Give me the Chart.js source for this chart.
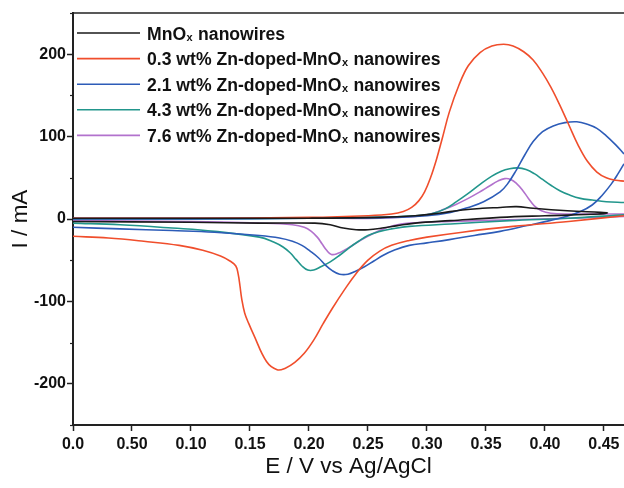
<!DOCTYPE html>
<html>
<head>
<meta charset="utf-8">
<script src="https://cdn.jsdelivr.net/npm/chart.js@4/dist/chart.umd.min.js"></script>
<style>
  html, body { margin: 0; padding: 0; background: #fff; }
  #cv { display: block; }
</style>
</head>
<body>
<canvas id="cv" width="624" height="488"></canvas>
<script>
// Cyclic voltammograms, potential E (V vs Ag/AgCl) against current I (mA).
// Each loop: anodic sweep left to right, then cathodic sweep right to left
// (a null breaks the path where the loop turns outside the plotted range).
const seriesLabels = [
    'MnOₓ nanowires',
    '0.3 wt% Zn-doped-MnOₓ nanowires',
    '2.1 wt% Zn-doped-MnOₓ nanowires',
    '4.3 wt% Zn-doped-MnOₓ nanowires',
    '7.6 wt% Zn-doped-MnOₓ nanowires'
];
const seriesColors = ['#1a1a1a', '#f04e2c', '#2d5cb8', '#22968c', '#b272cd'];

const mnoxE = [0, 0.1, 0.2, 0.26, 0.29, 0.31, 0.33, 0.347, 0.362, 0.376, 0.39, 0.419, 0.447, 0.453,
    0.447, 0.40, 0.362, 0.32, 0.29, 0.275, 0.262, 0.250, 0.240, 0.229, 0.218, 0.205, 0.158, 0.1, 0];
const mnoxI = [1, 1, 1, 2, 4, 7, 11, 13, 14, 15, 13, 10, 8, 7.5,
    6, 4, 2, -2, -5, -8, -11, -13, -13, -11, -7, -5, -5, -4, -3];

const zn03E = [0, 0.1, 0.2, 0.25, 0.27, 0.28, 0.287, 0.293, 0.298, 0.303, 0.308, 0.313, 0.319, 0.327,
    0.335, 0.345, 0.355, 0.365, 0.373, 0.382, 0.390, 0.398, 0.405, 0.412, 0.420, 0.428, 0.436, 0.444,
    0.452, 0.460, 0.467,
    null,
    0.467, 0.42, 0.373, 0.33, 0.30, 0.285, 0.270, 0.260, 0.250, 0.240, 0.230, 0.220, 0.212, 0.204,
    0.196, 0.188, 0.180, 0.173, 0.164, 0.153, 0.149, 0.1455, 0.143, 0.1415, 0.140, 0.138, 0.133, 0.125,
    0.11, 0.09, 0.06, 0.03, 0];
const zn03I = [1, 1, 2, 4, 6, 9, 14, 22, 33, 50, 72, 98, 130, 162,
    186, 202, 210, 212, 210, 203, 193, 177, 160, 140, 115, 90, 70, 57,
    50, 47, 46,
    null,
    4, -3, -9, -16, -22, -26, -32, -39, -50, -66, -86, -108, -127, -147,
    -163, -174, -181, -183, -173, -140, -127, -114, -97, -81, -67, -57, -51, -45,
    -38, -32, -27, -23, -21];

const zn21E = [0, 0.1, 0.2, 0.27, 0.30, 0.32, 0.335, 0.348, 0.362, 0.368, 0.376, 0.383, 0.390, 0.398,
    0.407, 0.417, 0.427, 0.436, 0.444, 0.452, 0.460, 0.467,
    null,
    0.467, 0.462, 0.456, 0.448, 0.440, 0.430, 0.418, 0.404, 0.385, 0.362, 0.34, 0.319, 0.30, 0.285,
    0.272, 0.263, 0.255, 0.247, 0.240, 0.233, 0.226, 0.220, 0.214, 0.208, 0.201, 0.194, 0.186, 0.175,
    0.158, 0.12, 0.084, 0.04, 0];
const zn21I = [0, 0, 1, 2, 4, 8, 14, 21, 33, 42, 60, 78, 94, 106,
    113, 117, 118, 115, 110, 101, 90, 79,
    null,
    67, 55, 42, 28, 17, 9, 3, -2, -8, -15, -20, -25, -29, -32,
    -38, -44, -51, -58, -63, -67, -67, -63, -56, -47, -39, -32, -27, -23,
    -20, -16, -14, -12, -10];

const zn43E = [0, 0.1, 0.2, 0.26, 0.29, 0.303, 0.315, 0.325, 0.335, 0.345, 0.355, 0.363, 0.370, 0.377,
    0.384, 0.391, 0.398, 0.405, 0.413, 0.421, 0.430, 0.440, 0.452, 0.467,
    null,
    0.467, 0.42, 0.37, 0.32, 0.285, 0.270, 0.260, 0.250, 0.242, 0.234, 0.226, 0.218, 0.210, 0.204,
    0.199, 0.194, 0.189, 0.184, 0.178, 0.170, 0.158, 0.12, 0.084, 0.04, 0];
const zn43I = [0, 0, 1, 2, 4, 6, 12, 21, 31, 42, 52, 58, 61, 62,
    60, 55, 48, 41, 34, 29, 25, 23, 21, 20,
    null,
    5, 1, -2, -6, -9, -12, -15, -20, -27, -35, -44, -52, -58, -62,
    -62, -57, -49, -41, -34, -28, -22, -15, -11, -7, -5];

const zn76E = [0, 0.1, 0.2, 0.26, 0.29, 0.303, 0.315, 0.325, 0.335, 0.345, 0.353, 0.360, 0.366, 0.371,
    0.376, 0.381, 0.386, 0.391, 0.397, 0.405, 0.42, 0.44, 0.467,
    null,
    0.467, 0.42, 0.37, 0.32, 0.285, 0.272, 0.263, 0.254, 0.246, 0.238, 0.230, 0.224, 0.219, 0.215,
    0.211, 0.207, 0.202, 0.196, 0.186, 0.158, 0.1, 0];
const zn76I = [1, 1, 1, 1, 3, 6, 12, 18, 25, 33, 40, 46, 49, 48,
    43, 35, 25, 16, 10, 7, 6, 6, 6,
    null,
    3, 1, -1, -3, -5, -8, -12, -18, -24, -31, -38, -42, -43, -38,
    -30, -22, -15, -10, -7, -5, -3, -2];

const xTickValues = [0, 0.05, 0.10, 0.15, 0.20, 0.25, 0.30, 0.35, 0.40, 0.45];
const xTickLabels = ['0.0', '0.50', '0.10', '0.15', '0.20', '0.25', '0.30', '0.35', '0.40', '0.45'];
const yTickValues = [-200, -100, 0, 100, 200];
const yTickLabels = ['-200', '-100', '0', '100', '200'];
const yMinorTicks = [-250, -150, -50, 50, 150, 250];

const seriesE = [mnoxE, zn03E, zn21E, zn43E, zn76E];
const seriesI = [mnoxI, zn03I, zn21I, zn43I, zn76I];

function toPoints(es, is) {
    return es.map((e, k) => ({ x: e, y: is[k] }));
}

const datasets = seriesLabels.map((label, k) => ({
    label: label,
    data: toPoints(seriesE[k], seriesI[k]),
    borderColor: seriesColors[k],
    backgroundColor: seriesColors[k],
    borderWidth: 1.6,
    pointRadius: 0,
    showLine: true,
    tension: 0.4,
    spanGaps: false
}));

const axisColor = '#222';
const tickFont = { family: 'Liberation Sans, Arial, sans-serif', size: 16, weight: 'bold' };
const titleFont = { family: 'Liberation Sans, Arial, sans-serif', size: 22.5, lineHeight: 1 };

// legend drawn inside the plot, with a lowered small "x" for MnOx
const insideLegend = {
    id: 'insideLegend',
    afterDatasetsDraw(chart) {
        const ctx = chart.ctx;
        const area = chart.chartArea;
        ctx.save();
        chart.data.datasets.forEach((ds, k) => {
            const y = area.top + 20 + k * 25.6;
            ctx.strokeStyle = ds.borderColor;
            ctx.lineWidth = 1.6;
            ctx.beginPath();
            ctx.moveTo(area.left + 4, y);
            ctx.lineTo(area.left + 67, y);
            ctx.stroke();

            let x = area.left + 74;
            ctx.fillStyle = '#111';
            ctx.textBaseline = 'alphabetic';
            const base = y + 6.5;
            ds.label.split('ₓ').forEach((part, j) => {
                if (j > 0) {
                    ctx.font = 'bold 11px Liberation Sans, Arial, sans-serif';
                    ctx.fillText('x', x + 0.5, base + 1);
                    x += ctx.measureText('x').width + 1;
                }
                ctx.font = 'bold 17.6px Liberation Sans, Arial, sans-serif';
                ctx.fillText(part, x, base);
                x += ctx.measureText(part).width;
            });
        });
        ctx.restore();
    }
};

// top frame line and the short minor ticks on the current axis
const frameAndMinorTicks = {
    id: 'frameAndMinorTicks',
    afterDraw(chart) {
        const ctx = chart.ctx;
        const area = chart.chartArea;
        const yScale = chart.scales.y;
        ctx.save();
        ctx.strokeStyle = axisColor;
        ctx.lineWidth = 1.5;
        ctx.beginPath();
        ctx.moveTo(area.left, area.top);
        ctx.lineTo(area.right, area.top);
        ctx.stroke();
        ctx.lineWidth = 1.2;
        yMinorTicks.forEach(v => {
            const py = Math.round(yScale.getPixelForValue(v)) + 0.5;
            ctx.beginPath();
            ctx.moveTo(area.left - 3, py);
            ctx.lineTo(area.left, py);
            ctx.stroke();
        });
        ctx.restore();
    }
};

new Chart(document.getElementById('cv'), {
    type: 'scatter',
    data: { datasets: datasets },
    options: {
        responsive: false,
        animation: false,
        layout: { padding: { top: 13, right: 0, bottom: 0, left: 0 } },
        plugins: {
            legend: { display: false },
            tooltip: { enabled: false }
        },
        scales: {
            x: {
                type: 'linear',
                min: 0,
                max: 0.467,
                afterBuildTicks(scale) {
                    scale.ticks = xTickValues.map(v => ({ value: v }));
                },
                afterFit(scale) {
                    scale.height = 63;
                    scale.paddingLeft = 0;
                    scale.paddingRight = 0;
                },
                ticks: {
                    color: '#111',
                    font: tickFont,
                    padding: 4,
                    maxRotation: 0,
                    autoSkip: false,
                    callback: (v, i) => xTickLabels[i]
                },
                grid: {
                    display: true,
                    drawOnChartArea: false,
                    tickLength: 6,
                    tickColor: axisColor,
                    tickWidth: 1.5
                },
                border: { display: true, color: axisColor, width: 2 },
                title: {
                    display: true,
                    text: 'E / V vs Ag/AgCl',
                    color: '#111',
                    font: titleFont,
                    padding: { top: 0, bottom: 10 }
                }
            },
            y: {
                type: 'linear',
                min: -250,
                max: 250,
                afterBuildTicks(scale) {
                    scale.ticks = yTickValues.map(v => ({ value: v }));
                },
                afterFit(scale) {
                    scale.width = 73;
                    scale.paddingTop = 0;
                    scale.paddingBottom = 0;
                },
                ticks: {
                    color: '#111',
                    font: tickFont,
                    padding: 1,
                    autoSkip: false,
                    callback: (v, i) => yTickLabels[i]
                },
                grid: {
                    display: true,
                    drawOnChartArea: false,
                    tickLength: 6,
                    tickColor: axisColor,
                    tickWidth: 1.5
                },
                border: { display: true, color: axisColor, width: 2 },
                title: {
                    display: true,
                    text: 'I / mA',
                    color: '#111',
                    font: titleFont,
                    padding: { top: 10, bottom: 0 }
                }
            }
        }
    },
    plugins: [insideLegend, frameAndMinorTicks]
});
</script>
</body>
</html>
